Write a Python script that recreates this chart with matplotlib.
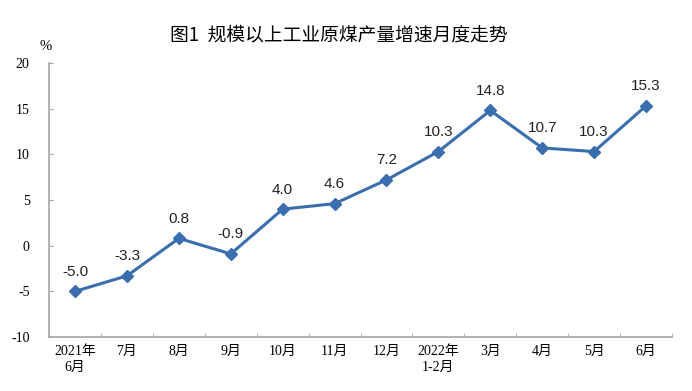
import numpy as np
import matplotlib
matplotlib.use('Agg')
import matplotlib.pyplot as plt

plt.rcParams['font.family'] = ['Liberation Serif', 'Noto Sans CJK SC']

months = ['2021年\n6月', '7月', '8月', '9月', '10月', '11月', '12月',
          '2022年\n1-2月', '3月', '4月', '5月', '6月']
growth = [-5.0, -3.3, 0.8, -0.9, 4.0, 4.6, 7.2, 10.3, 14.8, 10.7, 10.3, 15.3]
yticks = [-10, -5, 0, 5, 10, 15, 20]

line_color = '#3a6eaf'
axis_color = '#a6a6a6'

fig = plt.figure(figsize=(6.92, 3.91), dpi=100)
ax = fig.add_axes([0.071, 0.138, 0.900, 0.701])

x = np.arange(len(months))
ax.plot(x, growth, color=line_color, lw=2.2, marker='D', ms=6, zorder=3)
for xi, v in zip(x, growth):
    ax.annotate('%.1f' % v, (xi, v), textcoords='offset points', xytext=(0, 9),
                ha='center', va='bottom', fontsize=11, family='Liberation Sans',
                color='#222222')

ax.set_xlim(-0.5, len(months) - 0.5)
ax.set_ylim(-10, 20)
ax.set_yticks(yticks)
ax.set_yticklabels([str(t) for t in yticks], fontsize=10)
ax.set_xticks(x)
ax.set_xticklabels(months, fontsize=10, linespacing=1.3)
ax.set_xticks(np.arange(len(months) + 1) - 0.5, minor=True)
ax.tick_params(axis='x', which='major', length=0, pad=6)
ax.tick_params(axis='x', which='minor', direction='in', length=3, color=axis_color)
ax.tick_params(axis='y', direction='in', length=3, color=axis_color, pad=14)

for s in ['top', 'right']:
    ax.spines[s].set_visible(False)
for s in ['left', 'bottom']:
    ax.spines[s].set_color(axis_color)
    ax.spines[s].set_linewidth(1.2)

fig.text(0.49, 0.91, '图1  规模以上工业原煤产量增速月度走势', ha='center', va='center',
         fontsize=13.5, family=['Noto Sans CJK SC'])
fig.text(0.066, 0.88, '%', ha='center', va='center', fontsize=10.5)

fig.savefig('out.png', dpi=100)
